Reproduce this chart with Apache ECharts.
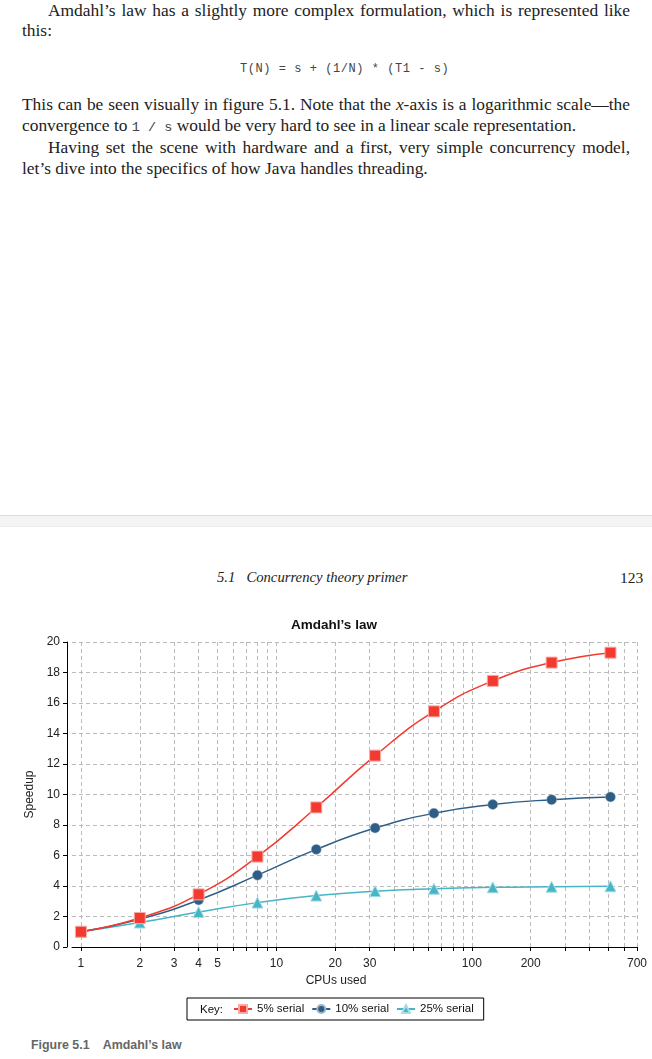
<!DOCTYPE html>
<html>
<head>
<meta charset="utf-8">
<script src="https://cdn.jsdelivr.net/npm/echarts@6/dist/echarts.min.js"></script>
<style>
html,body{margin:0;padding:0;background:#fff;}
body{width:652px;height:1059px;position:relative;overflow:hidden;}
.serif{font-family:"Liberation Serif","Times New Roman",serif;font-size:17.4px;color:#222;position:absolute;left:22px;width:608px;line-height:20px;white-space:nowrap;}
.just{text-align:justify;text-align-last:justify;white-space:normal;}
.mono{font-family:"Liberation Mono","DejaVu Sans Mono",monospace;font-size:12px;color:#444;}
#sep{position:absolute;left:0;top:515px;width:652px;height:10px;background:#f4f4f4;border-top:1px solid #dcdcdc;border-bottom:1px solid #ececec;}
#chart{position:absolute;left:0;top:600px;width:652px;height:430px;}
#cap{position:absolute;left:31px;top:1038px;font-family:"Liberation Sans Narrow","Liberation Sans",Arial,sans-serif;font-weight:bold;font-size:12.4px;color:#666;white-space:pre;}
</style>
</head>
<body>
<div class="serif just" style="top:0px;padding-left:26px;width:582px;">Amdahl’s law has a slightly more complex formulation, which is represented like</div>
<div class="serif" style="top:20px;">this:</div>
<div class="mono" style="position:absolute;left:240px;top:62px;letter-spacing:0.55px;white-space:pre;">T(N) = s + (1/N) * (T1 - s)</div>
<div class="serif just" style="top:94px;">This can be seen visually in figure 5.1. Note that the <i>x</i>-axis is a logarithmic scale—the</div>
<div class="serif" style="top:115px;">convergence to <span class="mono" style="font-size:13.5px">1 / s</span> would be very hard to see in a linear scale representation.</div>
<div class="serif just" style="top:137px;padding-left:26px;width:582px;">Having set the scene with hardware and a first, very simple concurrency model,</div>
<div class="serif" style="top:158px;">let’s dive into the specifics of how Java handles threading.</div>
<div id="sep"></div>
<div style="position:absolute;left:217px;top:569px;font-family:'Liberation Serif',serif;font-style:italic;font-size:14.7px;color:#222;white-space:pre;">5.1   Concurrency theory primer</div>
<div style="position:absolute;left:620px;top:569px;font-family:'Liberation Serif',serif;font-size:15.5px;color:#222;">123</div>
<div id="chart"></div>
<div id="cap">Figure 5.1    Amdahl’s law</div>
<script>
const cpus = [1, 2, 4, 8, 16, 32, 64, 128, 256, 512];
const serial5 = [1, 1.9, 3.45, 5.93, 9.15, 12.55, 15.45, 17.45, 18.65, 19.3];
const serial10 = [1, 1.82, 3.08, 4.71, 6.4, 7.8, 8.77, 9.34, 9.66, 9.84];
const serial25 = [1, 1.6, 2.29, 2.91, 3.37, 3.66, 3.82, 3.91, 3.95, 3.98];
const seriesNames = ['5% serial', '10% serial', '25% serial'];
const xTickValues = [1,2,3,4,5,6,7,8,9,10,20,30,40,50,60,70,80,90,100,200,300,400,500,600,700];
const xLabelValues = [1,2,3,4,5,10,20,30,100,200,700];

const pair = (vals) => cpus.map((c, i) => [c, vals[i]]);
const chart = echarts.init(document.getElementById('chart'));
const txt = '#222';
const font = 'Liberation Sans, Arial, sans-serif';
const gridLine = {show: true, lineStyle: {color: '#bbbbbb', type: [4, 3], width: 1}};
chart.setOption({
  animation: false,
  textStyle: {fontFamily: font},
  title: {
    text: 'Amdahl’s law', left: 329, top: 13, textAlign: 'center',
    textStyle: {fontSize: 13.5, fontWeight: 'bold', color: '#111', fontFamily: font}
  },
  graphic: [{type: 'text', left: 200, top: 404, style: {text: 'Key:', fontSize: 11.5, fill: '#111', fontFamily: font}}],
  legend: {
    left: 187, top: 398, padding: [5, 10, 5, 46], borderColor: '#000', borderWidth: 1,
    itemGap: 7, itemWidth: 18, itemHeight: 10,
    textStyle: {fontSize: 11.5, color: '#111', fontFamily: font},
    data: seriesNames
  },
  grid: {left: 72, right: 15, top: 42, bottom: 83, containLabel: false},
  xAxis: {
    type: 'log', logBase: 10, min: 0.9, max: 700, offset: 4,
    name: 'CPUs used', nameLocation: 'middle', nameGap: 24,
    nameTextStyle: {fontSize: 12, color: txt, padding: [0, 37, 0, 0]},
    axisLine: {show: true, lineStyle: {color: '#000', width: 1}},
    axisTick: {show: true, length: 4, customValues: xTickValues, lineStyle: {color: '#000'}},
    axisLabel: {customValues: xLabelValues, fontSize: 12, color: txt, margin: 7},
    splitLine: gridLine,
    minorTick: {show: false}
  },
  yAxis: {
    type: 'value', min: 0, max: 20, interval: 2, offset: 5,
    name: 'Speedup', nameLocation: 'middle', nameGap: 23,
    nameTextStyle: {fontSize: 12, color: txt},
    axisLine: {show: true, lineStyle: {color: '#000', width: 1}},
    axisTick: {show: true, length: 4, lineStyle: {color: '#000'}},
    axisLabel: {fontSize: 12, color: txt, margin: 7},
    splitLine: gridLine
  },
  series: [
    {name: seriesNames[0], type: 'line', smooth: true, data: pair(serial5), symbol: 'rect', symbolSize: 11,
     color: '#f23a30', lineStyle: {width: 1.5}, itemStyle: {borderColor: '#f9aaa5', borderWidth: 1}, z: 4},
    {name: seriesNames[1], type: 'line', smooth: true, data: pair(serial10), symbol: 'circle', symbolSize: 10,
     color: '#2e5e86', lineStyle: {width: 1.5}, itemStyle: {borderColor: '#9fb6c9', borderWidth: 0.5}, z: 3},
    {name: seriesNames[2], type: 'line', smooth: true, data: pair(serial25), symbol: 'triangle', symbolSize: 11,
     color: '#46b5c5', lineStyle: {width: 1.5}, itemStyle: {borderColor: '#a9dde5', borderWidth: 1}, z: 2}
  ]
});
</script>
</body>
</html>
